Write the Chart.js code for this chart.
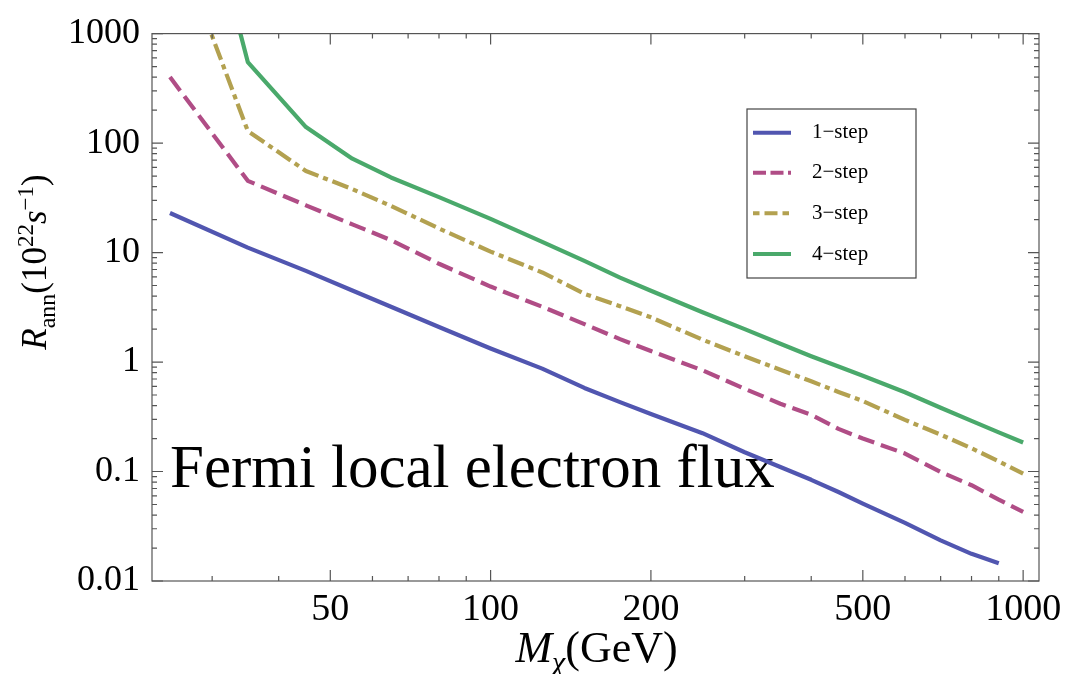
<!DOCTYPE html>
<html>
<head>
<meta charset="utf-8">
<script src="https://cdn.jsdelivr.net/npm/chart.js@4/dist/chart.umd.min.js"></script>
<style>
  html, body { margin: 0; padding: 0; background: #ffffff; }
  #wrap { width: 1069px; height: 674px; position: relative; }
</style>
</head>
<body>
<div id="wrap"><canvas id="c"></canvas></div>
<script>
// Dark-matter mass (GeV) and required annihilation rate (10^22 s^-1) per cascade length
const massGeV   = [25, 35, 45, 55, 65, 80, 100, 125, 150, 175, 200, 250, 300, 350, 400, 450, 500, 600, 700, 800, 900, 1000];
const rate1Step = [23, 11.1, 6.8, 4.5, 3.2, 2.09, 1.33, 0.87, 0.58, 0.43, 0.335, 0.224, 0.15, 0.11, 0.084, 0.065, 0.051, 0.034, 0.0235, 0.0177, 0.0145, null];
const rate2Step = [401, 45.2, 27, 18.1, 13, 7.9, 4.89, 3.2, 2.22, 1.62, 1.26, 0.84, 0.57, 0.416, 0.33, 0.245, 0.2, 0.146, 0.099, 0.075, 0.0553, 0.0428];
const rate3Step = [10000, 129, 55.6, 38, 26.7, 16.6, 10.2, 6.58, 4.2, 3.24, 2.56, 1.6, 1.13, 0.85, 0.667, 0.533, 0.44, 0.296, 0.217, 0.163, 0.124, 0.0957];
const rate4Step = [300000, 550, 140, 72, 48.5, 32.1, 20.3, 12.5, 8.4, 5.9, 4.48, 2.85, 2.0, 1.47, 1.13, 0.909, 0.75, 0.53, 0.382, 0.29, 0.228, 0.184];
const seriesNames = ['1\u2212step', '2\u2212step', '3\u2212step', '4\u2212step'];

// Axis ticks
const xMajorTicks = [50, 100, 200, 500, 1000];
const xTickLabels = ['50', '100', '200', '500', '1000'];
const xMinorTicks = [30, 40, 60, 70, 80, 90, 300, 400, 600, 700, 800, 900];
const yMajorTicks = [0.01, 0.1, 1, 10, 100, 1000];
const yTickLabels = ['0.01', '0.1', '1', '10', '100', '1000'];
const yMinorSteps = [2, 3, 4, 5, 6, 7, 8, 9];

const SERIF = '"Liberation Serif", "DejaVu Serif", serif';
const colors = ['#5156b0', '#b04d86', '#b3a150', '#4aa96b'];
const plotDash = [[], [17, 7], [17, 5, 5, 5], []];
const legendDash = [[], [13, 4.5], [6.5, 5, 13, 5], []];

function points(vals) {
  const out = [];
  massGeV.forEach((m, i) => { if (vals[i] !== null) out.push({ x: m, y: vals[i] }); });
  return out;
}

const yMinorTicks = [];
yMajorTicks.slice(0, -1).forEach(d => yMinorSteps.forEach(s => yMinorTicks.push(+(d * s).toPrecision(3))));

function tickList(major, minor) {
  return major.map(v => ({ value: v, major: true }))
    .concat(minor.map(v => ({ value: v, major: false })))
    .sort((a, b) => a.value - b.value);
}

// Inward ticks on all four sides plus the frame
const framePlugin = {
  id: 'frameTicks',
  afterDatasetsDraw(chart) {
    const { ctx, chartArea: a, scales } = chart;
    ctx.save();
    ctx.strokeStyle = '#555555';
    ctx.lineWidth = 1.2;
    ctx.strokeRect(a.left, a.top, a.right - a.left, a.bottom - a.top);
    ctx.beginPath();
    scales.x.ticks.forEach(t => {
      const px = scales.x.getPixelForValue(t.value);
      const len = t.major ? 11 : 5;
      ctx.moveTo(px, a.bottom); ctx.lineTo(px, a.bottom - len);
      ctx.moveTo(px, a.top); ctx.lineTo(px, a.top + len);
    });
    scales.y.ticks.forEach(t => {
      const py = scales.y.getPixelForValue(t.value);
      const len = t.major ? 11 : 5;
      ctx.moveTo(a.left, py); ctx.lineTo(a.left + len, py);
      ctx.moveTo(a.right, py); ctx.lineTo(a.right - len, py);
    });
    ctx.stroke();
    ctx.restore();
  }
};

function drawRuns(ctx, runs, x, y) {
  let total = 0;
  runs.forEach(r => { ctx.font = r.font; r.w = ctx.measureText(r.text).width; total += r.w; });
  let cx = x - total / 2;
  runs.forEach(r => {
    ctx.font = r.font;
    ctx.fillText(r.text, cx, y + (r.dy || 0));
    cx += r.w;
  });
}

// Axis titles, in-plot caption and legend box
const textPlugin = {
  id: 'textBits',
  beforeDatasetsDraw(chart) {
    const { ctx, scales } = chart;
    ctx.save();
    ctx.fillStyle = '#000000';
    ctx.textAlign = 'left';
    ctx.textBaseline = 'alphabetic';
    ctx.font = '61px ' + SERIF;
    ctx.fillText('Fermi local electron flux', scales.x.getPixelForValue(25.0), scales.y.getPixelForValue(0.072));
    ctx.restore();
  },
  afterDraw(chart) {
    const { ctx, chartArea: a } = chart;
    ctx.save();
    ctx.fillStyle = '#000000';
    ctx.textBaseline = 'alphabetic';
    ctx.textAlign = 'left';

    // x title
    drawRuns(ctx, [
      { text: 'M', font: 'italic 44px ' + SERIF },
      { text: '\u03c7', font: 'italic 30px ' + SERIF, dy: 10 },
      { text: '(GeV)', font: '44px ' + SERIF }
    ], (a.left + a.right) / 2 + 1, 662);

    // y title
    ctx.translate(46, 262);
    ctx.rotate(-Math.PI / 2);
    drawRuns(ctx, [
      { text: 'R', font: 'italic 35px ' + SERIF },
      { text: 'ann', font: '24px ' + SERIF, dy: 9 },
      { text: '(10', font: '35px ' + SERIF },
      { text: '22', font: '23px ' + SERIF, dy: -13 },
      { text: 's', font: 'italic 35px ' + SERIF },
      { text: '\u22121', font: '23px ' + SERIF, dy: -13 },
      { text: ')', font: '35px ' + SERIF }
    ], 0, 0);
    ctx.restore();

    // legend
    ctx.save();
    const bx = 747, by = 109, bw = 169, bh = 169;
    ctx.fillStyle = '#ffffff';
    ctx.fillRect(bx, by, bw, bh);
    ctx.strokeStyle = '#444444';
    ctx.lineWidth = 1.2;
    ctx.strokeRect(bx, by, bw, bh);
    const rows = [132.7, 172.7, 213.3, 254];
    chart.data.datasets.forEach((ds, i) => {
      ctx.strokeStyle = ds.borderColor;
      ctx.lineWidth = 4;
      ctx.setLineDash(legendDash[i]);
      ctx.beginPath();
      ctx.moveTo(753, rows[i]);
      ctx.lineTo(791, rows[i]);
      ctx.stroke();
      ctx.setLineDash([]);
      ctx.fillStyle = '#000000';
      ctx.font = '21px ' + SERIF;
      ctx.textBaseline = 'middle';
      ctx.fillText(ds.label, 812, rows[i]);
    });
    ctx.restore();
  }
};

const seriesValues = [rate1Step, rate2Step, rate3Step, rate4Step];
const datasets = seriesValues.map((vals, i) => ({
  label: seriesNames[i],
  data: points(vals),
  borderColor: colors[i],
  backgroundColor: colors[i],
  borderWidth: 4.2,
  borderDash: plotDash[i],
  borderCapStyle: 'butt',
  borderJoinStyle: 'round',
  pointRadius: 0,
  pointHoverRadius: 0,
  tension: 0,
  fill: false,
  clip: 0
}));

new Chart(document.getElementById('c'), {
  type: 'line',
  data: { datasets },
  options: {
    responsive: true,
    maintainAspectRatio: false,
    animation: false,
    events: [],
    layout: { padding: { top: 32.7, right: 30, left: 0, bottom: 0 } },
    plugins: { legend: { display: false }, tooltip: { enabled: false }, title: { display: false } },
    scales: {
      x: {
        type: 'logarithmic',
        min: 23.13,
        max: 1071,
        grid: { display: false, drawTicks: false },
        border: { display: false },
        afterBuildTicks(scale) { scale.ticks = tickList(xMajorTicks, xMinorTicks); },
        afterFit(scale) { scale.height = 93; },
        ticks: {
          autoSkip: false,
          maxRotation: 0,
          minRotation: 0,
          padding: 6,
          color: '#000000',
          font: { family: SERIF, size: 38 },
          callback(value) {
            const k = xMajorTicks.indexOf(value);
            return k >= 0 ? xTickLabels[k] : '';
          }
        }
      },
      y: {
        type: 'logarithmic',
        min: 0.01,
        max: 1000,
        grid: { display: false, drawTicks: false },
        border: { display: false },
        afterBuildTicks(scale) { scale.ticks = tickList(yMajorTicks, yMinorTicks); },
        afterFit(scale) { scale.width = 152; },
        ticks: {
          autoSkip: false,
          padding: 12,
          color: '#000000',
          font: { family: SERIF, size: 36 },
          callback(value) {
            const k = yMajorTicks.findIndex(v => Math.abs(v - value) / v < 1e-6);
            return k >= 0 ? yTickLabels[k] : '';
          }
        }
      }
    }
  },
  plugins: [textPlugin, framePlugin]
});
</script>
</body>
</html>
